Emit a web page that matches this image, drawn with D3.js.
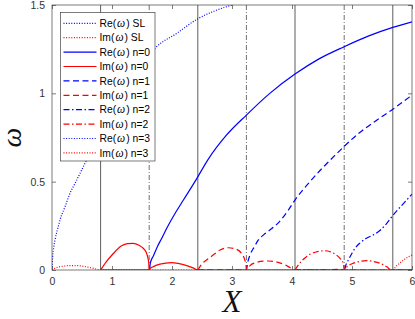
<!DOCTYPE html>
<html>
<head>
<meta charset="utf-8">
<script src="https://cdn.jsdelivr.net/npm/d3@7"></script>
<style>
  body { margin: 0; background: #fff; }
  svg { display: block; }
</style>
</head>
<body>
<div id="chart"></div>
<script>
// X positions of the vertical guide lines
const solidLines = [0.81, 2.43, 4.05, 5.68];
const dashDotLines = [1.62, 3.24, 4.87];

const xTicks = [0, 1, 2, 3, 4, 5, 6];
const yTicks = [0, 0.5, 1, 1.5];
const yTickLabels = ["0", "0.5", "1", "1.5"];

// [X, omega]
const reSL = [[0, 0], [0.01, 0.07], [0.03, 0.13], [0.05, 0.17], [0.1, 0.24], [0.133, 0.283], [0.217, 0.358],
    [0.3, 0.434], [0.383, 0.49], [0.467, 0.547], [0.55, 0.604], [0.7, 0.7], [0.9, 0.82], [1.1, 0.94],
    [1.3, 1.05], [1.5, 1.16], [1.717, 1.255], [2.08, 1.34], [2.44, 1.424], [2.7, 1.465], [3.0, 1.5], [3.3, 1.53]];
const imSL = [[0, 0], [0.05, 0.01], [0.12, 0.018], [0.2, 0.022], [0.3, 0.025], [0.4, 0.025], [0.5, 0.022],
    [0.6, 0.016], [0.7, 0.009], [0.81, 0], [6, 0]];
const reN0 = [[0.81, 0], [1.62, 0], [1.64, 0.04], [1.69, 0.08], [1.76, 0.135], [1.83, 0.18], [1.91, 0.235],
    [2.05, 0.32], [2.19, 0.396], [2.4, 0.51], [2.6, 0.625], [2.9, 0.76], [3.24, 0.877], [3.63, 1.0],
    [4.05, 1.109], [4.45, 1.195], [4.87, 1.264], [5.28, 1.325], [5.68, 1.373], [6, 1.405]];
const imN0 = [[0.81, 0], [0.9, 0.045], [1.0, 0.085], [1.16, 0.137], [1.26, 0.149], [1.355, 0.151], [1.45, 0.14],
    [1.52, 0.123], [1.57, 0.1], [1.6, 0.066], [1.615, 0.03], [1.62, 0], [1.64, 0.01], [1.69, 0.019],
    [1.8, 0.033], [1.99, 0.042], [2.1, 0.038], [2.22, 0.028], [2.35, 0.012], [2.43, 0], [6, 0]];
const reN1 = [[2.43, 0], [3.24, 0], [3.26, 0.04], [3.3, 0.085], [3.37, 0.13], [3.44, 0.17], [3.53, 0.2],
    [3.63, 0.226], [3.75, 0.26], [3.86, 0.302], [3.95, 0.345], [4.05, 0.396], [4.3, 0.5], [4.5, 0.575],
    [4.69, 0.64], [4.87, 0.7], [5.1, 0.77], [5.4, 0.845], [5.68, 0.91], [6, 0.99]];
const imN1 = [[2.43, 0], [2.5, 0.035], [2.58, 0.058], [2.66, 0.078], [2.8, 0.113], [2.94, 0.126], [3.05, 0.12],
    [3.16, 0.094], [3.21, 0.06], [3.235, 0.025], [3.24, 0], [3.3, 0.025], [3.4, 0.042], [3.52, 0.05],
    [3.61, 0.051], [3.75, 0.045], [3.88, 0.03], [3.97, 0.013], [4.05, 0], [4.6, 0], [4.75, 0.004], [4.87, 0], [6, 0]];
const reN2 = [[4.05, 0], [4.87, 0], [4.9, 0.03], [4.94, 0.057], [5.0, 0.095], [5.05, 0.123], [5.14, 0.155],
    [5.24, 0.18], [5.35, 0.198], [5.47, 0.225], [5.57, 0.26], [5.66, 0.3], [5.76, 0.34], [5.86, 0.377], [6, 0.43]];
const imN2 = [[4.05, 0], [4.12, 0.035], [4.24, 0.075], [4.4, 0.102], [4.55, 0.109], [4.66, 0.1], [4.74, 0.085],
    [4.81, 0.062], [4.86, 0.035], [4.87, 0], [4.92, 0.02], [5.0, 0.035], [5.12, 0.048], [5.24, 0.053],
    [5.36, 0.048], [5.48, 0.036], [5.58, 0.018], [5.66, 0], [6, 0]];
const reN3 = [[5.68, 0], [6, 0]];
const imN3 = [[5.68, 0], [5.74, 0.022], [5.8, 0.04], [5.86, 0.057], [5.93, 0.072], [6, 0.085]];

// legend labels: part before omega / part after
const namePrefix = ["Re", "Im", "Re", "Im", "Re", "Im", "Re", "Im", "Re", "Im"];
const nameSuffix = ["SL", "SL", "n=0", "n=0", "n=1", "n=1", "n=2", "n=2", "n=3", "n=3"];
const seriesData = [reSL, imSL, reN0, imN0, reN1, imN1, reN2, imN2, reN3, imN3];

const width = 415;
const height = 319;
const margin = { top: 5, right: 3, bottom: 49, left: 52 };

const blue = "#0000ff";
const red = "#ff0000";
const dotted = "1,1.6";
const dashed = "6,3.5";
const dashDot = "6,2.5,1.5,2.5";
// style for each series, same order as names
const seriesColor = [blue, red, blue, red, blue, red, blue, red, blue, red];
const seriesDash = [dotted, dotted, null, null, dashed, dashed, dashDot, dashDot, dotted, dotted];

const xScale = d3.scaleLinear().domain([0, 6]).range([margin.left, width - margin.right]);
const yScale = d3.scaleLinear().domain([0, 1.5]).range([height - margin.bottom, margin.top]);

const svg = d3.select("#chart")
    .append("svg")
    .attr("width", width)
    .attr("height", height)
    .style("font-family", "'Liberation Sans', Arial, sans-serif");

svg.append("defs").append("clipPath")
    .attr("id", "plot-clip")
    .append("rect")
    .attr("x", xScale(0))
    .attr("y", yScale(1.5))
    .attr("width", xScale(6) - xScale(0))
    .attr("height", yScale(0) - yScale(1.5));

const plot = svg.append("g").attr("clip-path", "url(#plot-clip)");

// vertical guides
plot.selectAll(".solid-guide")
    .data(solidLines)
    .enter()
    .append("line")
    .attr("class", "solid-guide")
    .attr("x1", d => xScale(d))
    .attr("x2", d => xScale(d))
    .attr("y1", yScale(0))
    .attr("y2", yScale(1.5))
    .attr("stroke", "#333")
    .attr("stroke-width", 0.8);

plot.selectAll(".dd-guide")
    .data(dashDotLines)
    .enter()
    .append("line")
    .attr("class", "dd-guide")
    .attr("x1", d => xScale(d))
    .attr("x2", d => xScale(d))
    .attr("y1", yScale(0))
    .attr("y2", yScale(1.5))
    .attr("stroke", "#333")
    .attr("stroke-width", 0.7)
    .attr("stroke-dasharray", "5,2,1,2");

const line = d3.line()
    .x(d => xScale(d[0]))
    .y(d => yScale(d[1]))
    .curve(d3.curveMonotoneX);

plot.selectAll(".series")
    .data(seriesData)
    .enter()
    .append("path")
    .attr("class", "series")
    .attr("d", d => line(d))
    .attr("fill", "none")
    .attr("stroke", (d, i) => seriesColor[i])
    .attr("stroke-width", 1.2)
    .attr("stroke-dasharray", (d, i) => seriesDash[i]);

// axes box with inward ticks on all four sides
const tickLen = 4;
const axisColor = "#444";

svg.append("rect")
    .attr("x", xScale(0))
    .attr("y", yScale(1.5))
    .attr("width", xScale(6) - xScale(0))
    .attr("height", yScale(0) - yScale(1.5))
    .attr("fill", "none")
    .attr("stroke", axisColor)
    .attr("stroke-width", 0.7);

const bottomAxis = d3.axisBottom(xScale).tickValues(xTicks).tickSizeInner(-tickLen).tickSizeOuter(0).tickPadding(8)
    .tickFormat(d3.format("d"));
const topAxis = d3.axisTop(xScale).tickValues(xTicks).tickSizeInner(-tickLen).tickSizeOuter(0).tickFormat("");
const leftAxis = d3.axisLeft(yScale).tickValues(yTicks).tickSizeInner(-tickLen).tickSizeOuter(0).tickPadding(7)
    .tickFormat((d, i) => yTickLabels[i]);
const rightAxis = d3.axisRight(yScale).tickValues(yTicks).tickSizeInner(-tickLen).tickSizeOuter(0).tickFormat("");

const styleAxis = g => {
    g.select(".domain").remove();
    g.selectAll(".tick line").attr("stroke", axisColor).attr("stroke-width", 0.7);
    g.selectAll(".tick text")
        .attr("fill", "#333")
        .style("font-size", "10.5px")
        .style("font-family", "'Liberation Sans', Arial, sans-serif");
};

svg.append("g").attr("transform", `translate(0,${yScale(0)})`).call(bottomAxis).call(styleAxis);
svg.append("g").attr("transform", `translate(0,${yScale(1.5)})`).call(topAxis).call(styleAxis);
svg.append("g").attr("transform", `translate(${xScale(0)},0)`).call(leftAxis).call(styleAxis);
svg.append("g").attr("transform", `translate(${xScale(6)},0)`).call(rightAxis).call(styleAxis);

// axis titles
svg.append("text")
    .text("X")
    .attr("x", (xScale(0) + xScale(6)) / 2)
    .attr("y", 312)
    .attr("text-anchor", "middle")
    .style("font-family", "'Liberation Serif', 'Times New Roman', serif")
    .style("font-style", "italic")
    .style("font-size", "31px")
    .attr("fill", "#111");

svg.append("text")
    .text("ω")
    .attr("transform", `translate(21,${(yScale(0) + yScale(1.5)) / 2}) rotate(-90)`)
    .attr("text-anchor", "middle")
    .style("font-family", "'Liberation Serif', 'Times New Roman', serif")
    .style("font-style", "italic")
    .style("font-size", "28px")
    .attr("fill", "#111");

// legend
const legend = svg.append("g").attr("transform", "translate(60.5,12.5)");
legend.append("rect")
    .attr("width", 94.5)
    .attr("height", 148.5)
    .attr("fill", "#fff")
    .attr("stroke", axisColor)
    .attr("stroke-width", 0.7);

const rowGap = 14.4;
const rows = legend.selectAll(".legend-row")
    .data(seriesData)
    .enter()
    .append("g")
    .attr("class", "legend-row")
    .attr("transform", (d, i) => `translate(0,${10.8 + i * rowGap})`);

rows.append("line")
    .attr("x1", 3)
    .attr("x2", 36)
    .attr("stroke", (d, i) => seriesColor[i])
    .attr("stroke-width", 1.2)
    .attr("stroke-dasharray", (d, i) => seriesDash[i]);

const labels = rows.append("text")
    .attr("x", 39)
    .attr("dy", "0.35em")
    .style("font-size", "10.3px")
    .attr("fill", "#000");
labels.append("tspan").text((d, i) => namePrefix[i] + "(");
labels.append("tspan")
    .attr("dx", 1)
    .style("font-family", "'Liberation Serif', 'Times New Roman', serif")
    .style("font-style", "italic")
    .style("font-size", "11.5px")
    .text("ω");
labels.append("tspan").attr("dx", 1).text((d, i) => ") " + nameSuffix[i]);
</script>
</body>
</html>
